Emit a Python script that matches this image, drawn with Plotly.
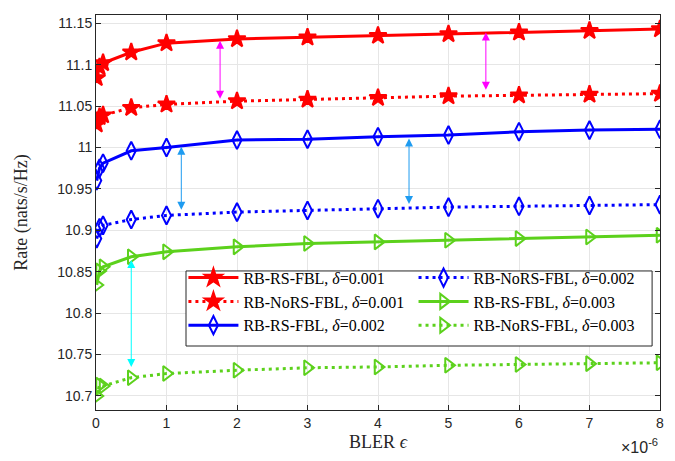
import plotly.graph_objects as go

# BLER (x 1e-6)
bler = [0.01, 0.05, 0.1, 0.5, 1, 2, 3, 4, 5, 6, 7, 8]

rs_001 = [11.084, 11.097, 11.102, 11.115, 11.126, 11.131, 11.133, 11.135, 11.137, 11.139, 11.141, 11.143]
nors_001 = [11.028, 11.037, 11.039, 11.048, 11.052, 11.056, 11.058, 11.060, 11.062, 11.063, 11.064, 11.065]
rs_002 = [10.960, 10.975, 10.981, 10.996, 11.000, 11.009, 11.010, 11.013, 11.015, 11.019, 11.021, 11.022]
nors_002 = [10.890, 10.903, 10.906, 10.913, 10.918, 10.922, 10.924, 10.926, 10.928, 10.929, 10.930, 10.931]
rs_003 = [10.834, 10.851, 10.856, 10.868, 10.874, 10.880, 10.884, 10.886, 10.888, 10.890, 10.892, 10.894]
nors_003 = [10.700, 10.713, 10.712, 10.722, 10.727, 10.731, 10.734, 10.735, 10.737, 10.738, 10.739, 10.740]

names = ["RB-RS-FBL, <i>δ</i>=0.001", "RB-NoRS-FBL, <i>δ</i>=0.001", "RB-RS-FBL, <i>δ</i>=0.002",
         "RB-NoRS-FBL, <i>δ</i>=0.002", "RB-RS-FBL, <i>δ</i>=0.003", "RB-NoRS-FBL, <i>δ</i>=0.003"]

y_ticks = [10.7, 10.75, 10.8, 10.85, 10.9, 10.95, 11.0, 11.05, 11.1, 11.15]
y_tick_text = ["10.7", "10.75", "10.8", "10.85", "10.9", "10.95", "11", "11.05", "11.1", "11.15"]
x_ticks = [0, 1, 2, 3, 4, 5, 6, 7, 8]

# double arrows: (x, y_top, y_bottom, color)
arrows = [
    (1.76, 11.129, 11.057, "#FF00FF"),
    (5.53, 11.139, 11.068, "#FF00FF"),
    (1.21, 11.001, 10.923, "#1E9BF0"),
    (4.44, 11.011, 10.930, "#1E9BF0"),
    (0.50, 10.864, 10.733, "#00FFFF"),
]

RED, BLUE, GREEN = "#FF0000", "#0000FF", "#5CD11C"
series = [
    (rs_001, RED, "solid", "star", 13, "legend"),
    (nors_001, RED, "3px,4px", "star", 13, "legend"),
    (rs_002, BLUE, "solid", "diamond-tall-open", 13, "legend"),
    (nors_002, BLUE, "3px,4px", "diamond-tall-open", 13, "legend2"),
    (rs_003, GREEN, "solid", "triangle-right-open", 13, "legend2"),
    (nors_003, GREEN, "3px,4px", "triangle-right-open", 13, "legend2"),
]

fig = go.Figure()
for (vals, col, dash, sym, msize, leg), nm in zip(series, names):
    fig.add_trace(go.Scatter(
        x=bler, y=vals, name=nm, mode="lines+markers", legend=leg,
        line=dict(color=col, width=3, dash=dash),
        marker=dict(symbol=sym, size=msize, color=col, line=dict(color=col, width=2)),
    ))

for (xa, yt, yb, col) in arrows:
    fig.add_annotation(x=xa, y=yt, ax=xa, ay=yb, xref="x", yref="y", axref="x", ayref="y",
                       text="", showarrow=True, arrowhead=2, startarrowhead=2,
                       arrowside="end+start", arrowsize=1.6, startarrowsize=1.6,
                       arrowwidth=1, arrowcolor=col)

fig.add_annotation(x=1.0, y=-0.122, xref="paper", yref="paper", xanchor="right", yanchor="bottom",
                   text="×10<sup>-6</sup>", showarrow=False,
                   font=dict(family="Liberation Sans", size=16, color="#262626"))

# legend frame
fig.add_shape(type="rect", xref="paper", yref="paper", x0=0.1596, x1=0.986, y0=0.162, y1=0.352,
              fillcolor="white", line=dict(color="#262626", width=1), layer="above")

axis_common = dict(showline=True, linecolor="#262626", linewidth=1, mirror="ticks",
                   ticks="inside", ticklen=5, tickcolor="#262626",
                   showgrid=True, gridcolor="#E6E6E6", gridwidth=1, zeroline=False,
                   tickfont=dict(family="Liberation Sans", size=14, color="#262626"))

leg_common = dict(orientation="v", yanchor="top", xanchor="left", y=0.378,
                  bgcolor="rgba(0,0,0,0)", borderwidth=0, itemwidth=50, tracegroupgap=0,
                  font=dict(family="Liberation Serif", size=16, color="black"))

fig.update_layout(
    width=675, height=461,
    margin=dict(l=88, r=23, t=7, b=59),
    paper_bgcolor="white", plot_bgcolor="white",
    xaxis=dict(range=[0, 8], tickvals=x_ticks,
               title=dict(text="BLER <i>ϵ</i>", font=dict(family="Liberation Serif", size=18, color="#262626"), standoff=5),
               **axis_common),
    yaxis=dict(range=[10.683, 11.16], tickvals=y_ticks, ticktext=y_tick_text,
               title=dict(text="Rate (nats/s/Hz)", font=dict(family="Liberation Serif", size=18, color="#262626"), standoff=24),
               **axis_common),
    legend=dict(x=0.155, **leg_common),
    legend2=dict(x=0.563, **leg_common),
    showlegend=True,
)

fig.write_html("out.html")
